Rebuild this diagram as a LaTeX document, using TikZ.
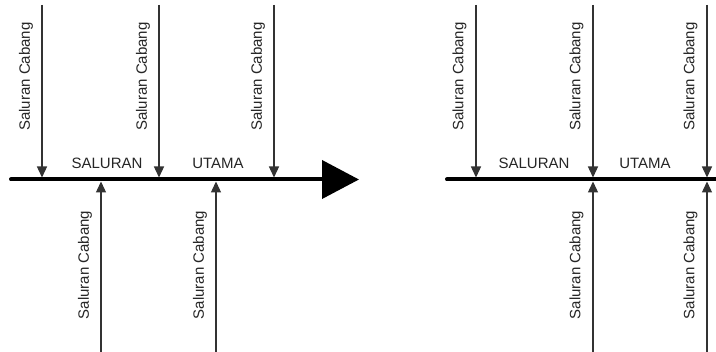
\documentclass[tikz,border=0pt]{standalone}
\usepackage{fontspec}
\setmainfont{Liberation Sans}
\usetikzlibrary{arrows.meta}
\begin{document}
\begin{tikzpicture}[x=1pt,y=-1pt,
  mainline/.style={line width=4pt,line cap=round,black},
  branch/.style={line width=1.3pt,black!80,-{Triangle[length=11pt,width=10pt]}},
  lbl/.style={font=\fontsize{15}{15}\selectfont,text=black!85,inner sep=0pt},
  vlbl/.style={lbl,rotate=90}]
\useasboundingbox[fill=white] (0,0) rectangle (716,352);
% ---------- left diagram ----------
\coordinate (Ls) at (11,179.5);
\coordinate (Le) at (359,179.5);
\draw[mainline,-{Triangle[length=37pt,width=38pt]}] (Ls) -- (Le);
\foreach \n/\x in {1/42,2/159,3/274}{
  \coordinate (Lt\n) at (\x,5);
  \coordinate (Lj\n) at (\x,177.5);
  \draw[branch] (Lt\n) -- (Lj\n);
  \node[vlbl] (Ltl\n) at (\x-16,76.5) {Saluran Cabang};
}
\foreach \n/\x in {1/101,2/216}{
  \coordinate (Lb\n) at (\x,352);
  \coordinate (Lk\n) at (\x,181.5);
  \draw[branch] (Lb\n) -- (Lk\n);
  \node[vlbl] (Lbl\n) at (\x-16,265) {Saluran Cabang};
}
\node[lbl] (Lsal) at (107,163) {SALURAN};
\node[lbl] (Luta) at (218,163) {UTAMA};
% ---------- right diagram ----------
\coordinate (Rs) at (447,179.5);
\coordinate (Re) at (720,179.5);
\draw[mainline] (Rs) -- (Re);
\foreach \n/\x in {1/476,2/593,3/707}{
  \coordinate (Rt\n) at (\x,5);
  \coordinate (Rj\n) at (\x,177.5);
  \draw[branch] (Rt\n) -- (Rj\n);
  \node[vlbl] (Rtl\n) at (\x-16.5,76.5) {Saluran Cabang};
}
\foreach \n/\x in {1/593,2/707}{
  \coordinate (Rb\n) at (\x,352);
  \coordinate (Rk\n) at (\x,181.5);
  \draw[branch] (Rb\n) -- (Rk\n);
  \node[vlbl] (Rbl\n) at (\x-16.5,265) {Saluran Cabang};
}
\node[lbl] (Rsal) at (534,163) {SALURAN};
\node[lbl] (Ruta) at (645,163) {UTAMA};
\end{tikzpicture}
\end{document}
